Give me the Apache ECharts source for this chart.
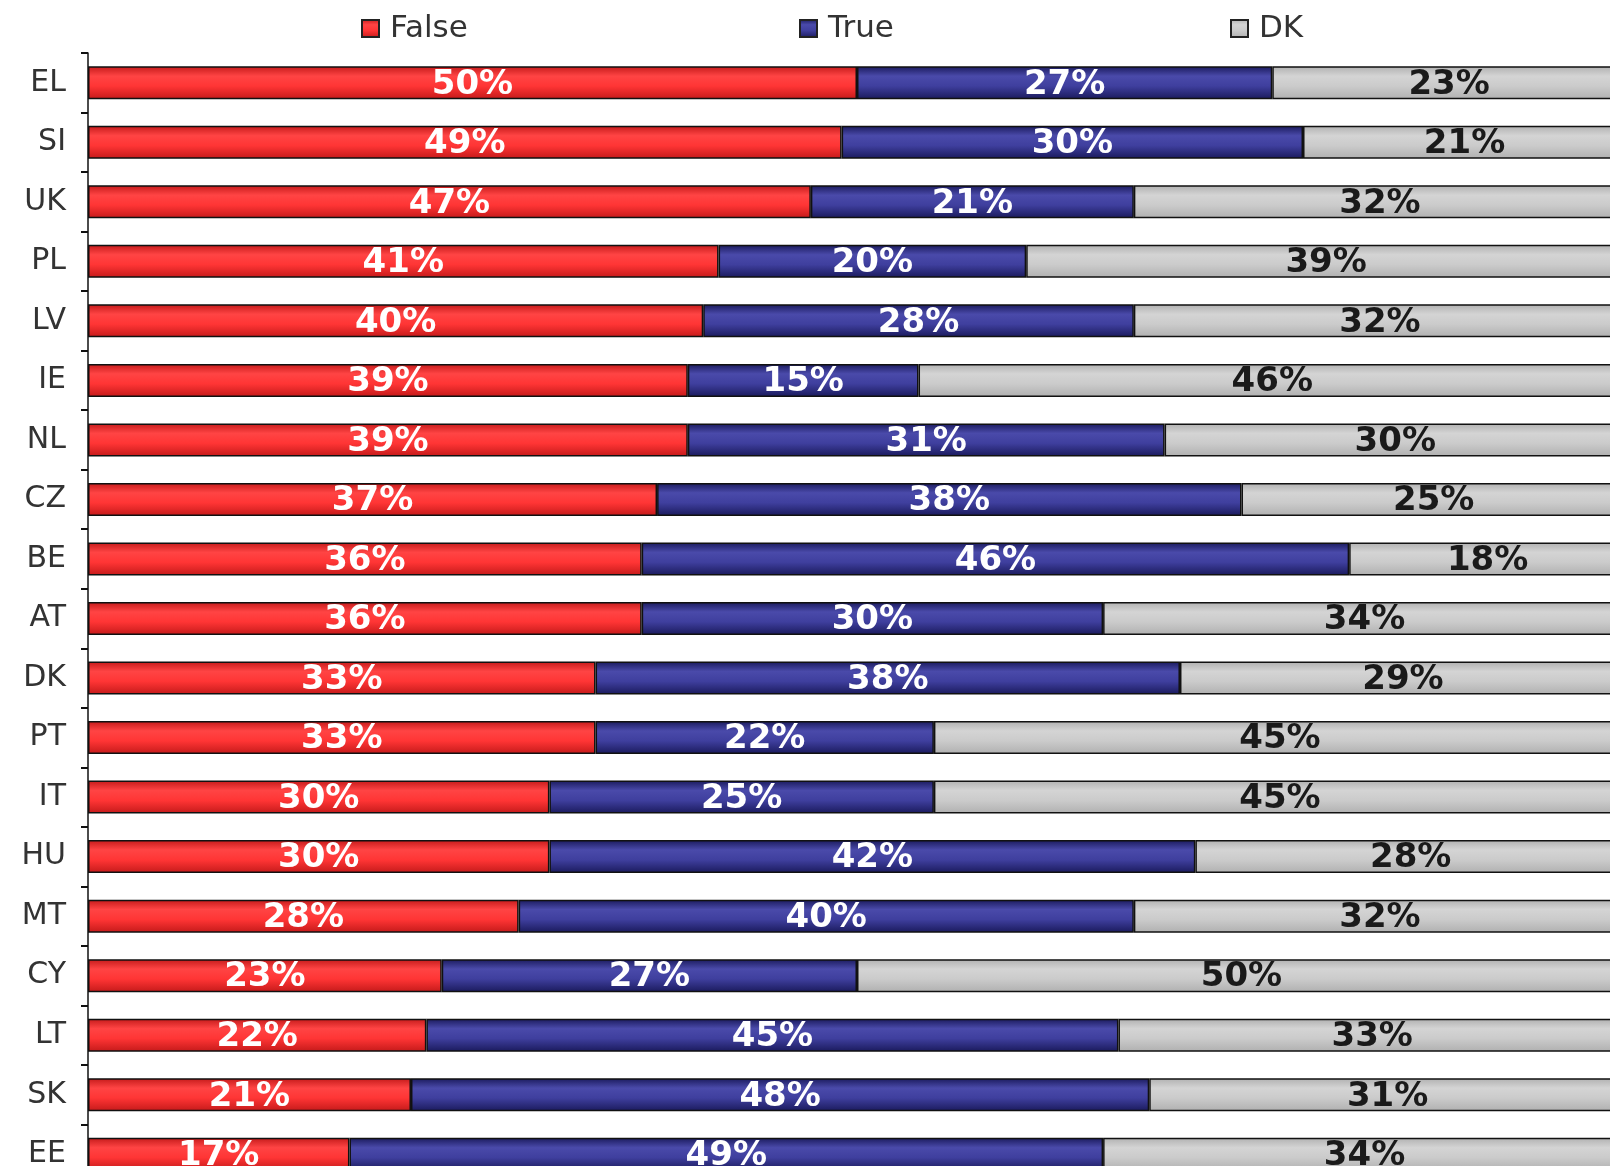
<!DOCTYPE html>
<html>
<head>
<meta charset="utf-8">
<title>False / True / DK</title>
<script src="https://cdn.jsdelivr.net/npm/echarts@6/dist/echarts.min.js"></script>
<style>
    html, body { margin: 0; padding: 0; background: #fff; overflow: hidden; }
    /* the plot runs past the right and bottom edge of the page, like the cropped original */
    #chart { width: 1630px; height: 1184px; }
</style>
</head>
<body>
<div id="chart"></div>
<script>
    // countries, top to bottom
    var countries = ['EL', 'SI', 'UK', 'PL', 'LV', 'IE', 'NL', 'CZ', 'BE', 'AT',
        'DK', 'PT', 'IT', 'HU', 'MT', 'CY', 'LT', 'SK', 'EE']
    // answer shares in %
    var falseList = [50, 49, 47, 41, 40, 39, 39, 37, 36, 36, 33, 33, 30, 30, 28, 23, 22, 21, 17]
    var trueList = [27, 30, 21, 20, 28, 15, 31, 38, 46, 30, 38, 22, 25, 42, 40, 27, 45, 48, 49]
    var dkList = [23, 21, 32, 39, 32, 46, 30, 25, 18, 34, 29, 45, 45, 28, 32, 50, 33, 31, 34]

    var font = 'DejaVu Sans'

    // vertical gradient, darker at the bar edges
    function grad(edge, mid, light) {
        return new echarts.graphic.LinearGradient(0, 0, 0, 1, [
            { offset: 0, color: edge },
            { offset: 0.3, color: light },
            { offset: 0.6, color: mid },
            { offset: 1, color: edge }
        ])
    }

    function makeSeries(name, data, color, textColor) {
        return {
            name: name,
            type: 'bar',
            stack: 'total',
            barWidth: 33,
            data: data,
            itemStyle: {
                color: color,
                borderColor: '#111',
                borderWidth: 1.5
            },
            label: {
                show: true,
                position: 'inside',
                offset: [0, 2],
                formatter: '{c}%',
                color: textColor,
                fontFamily: font,
                fontWeight: 'bold',
                fontSize: 34
            }
        }
    }

    function makeLegend(name, x) {
        return {
            data: [name],
            left: x,
            top: 13,
            padding: 0,
            itemWidth: 17,
            itemHeight: 17,
            icon: 'rect',
            itemStyle: { borderColor: '#222', borderWidth: 2 },
            textStyle: {
                fontFamily: font,
                fontSize: 31,
                color: '#333',
                padding: [0, 0, 0, 6]
            }
        }
    }

    var myChart = echarts.init(document.getElementById('chart'))
    myChart.setOption({
        animation: false,
        legend: [
            makeLegend('False', 361),
            makeLegend('True', 799),
            makeLegend('DK', 1230)
        ],
        grid: {
            left: 88,
            right: 4,
            top: 53,
            bottom: 0
        },
        xAxis: {
            type: 'value',
            min: 0,
            max: 100,
            show: false
        },
        yAxis: {
            type: 'category',
            inverse: true,
            data: countries,
            axisLine: { lineStyle: { color: '#111', width: 1.5 } },
            axisTick: { show: true, length: 7, lineStyle: { color: '#111', width: 2 } },
            axisLabel: {
                margin: 22,
                lineHeight: 30,
                padding: [10, 0, 0, 0],
                fontFamily: font,
                fontSize: 30,
                color: '#333'
            }
        },
        series: [
            makeSeries('False', falseList, grad('#c41a1a', '#ff3535', '#ff4444'), '#fff'),
            makeSeries('True', trueList, grad('#1a1a5c', '#3f3f9e', '#4a4aaa'), '#fff'),
            makeSeries('DK', dkList, grad('#b0b0b0', '#cbcbcb', '#d4d4d4'), '#1a1a1a')
        ]
    })
</script>
</body>
</html>
